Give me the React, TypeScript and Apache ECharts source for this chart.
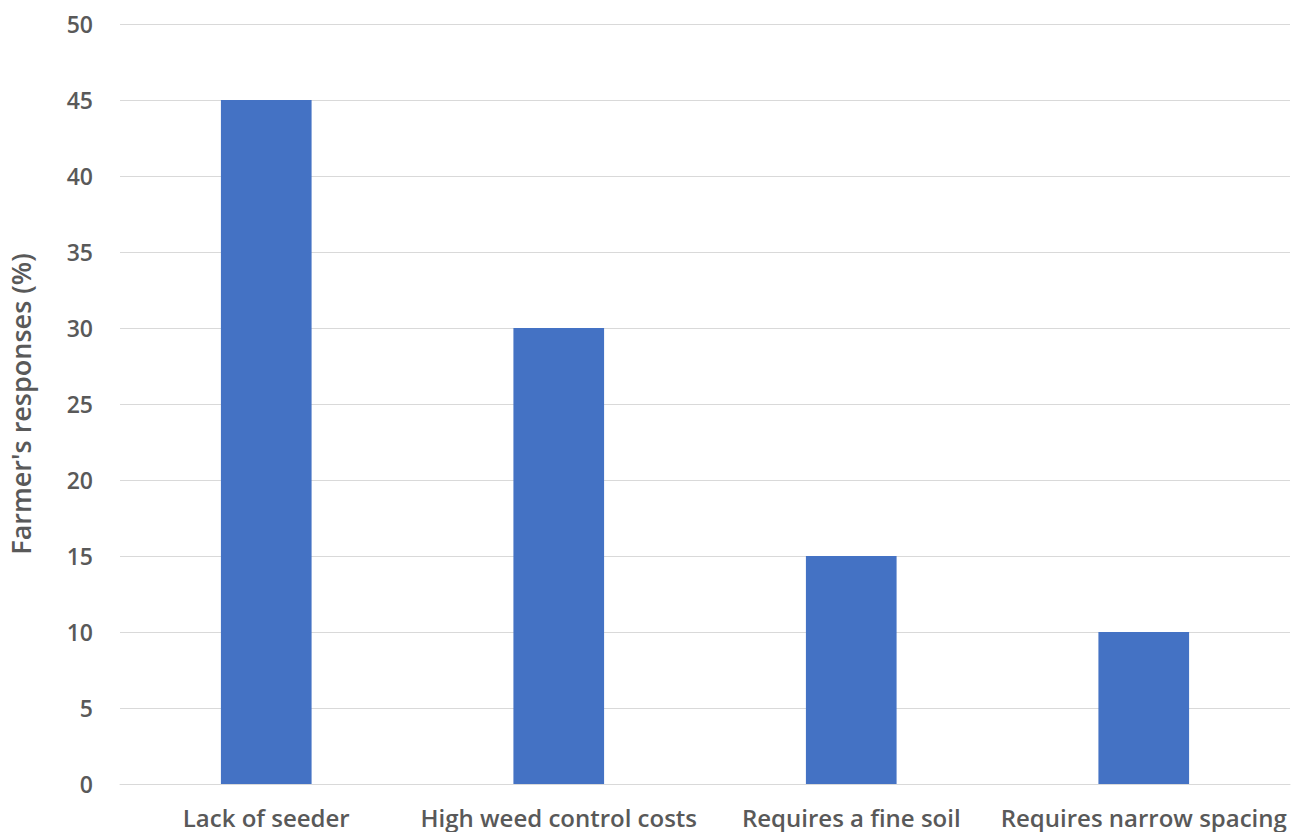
import React, { useEffect, useRef } from "react";
import * as echarts from "echarts";

const categories = [
  "Lack of seeder",
  "High weed control costs",
  "Requires a fine soil",
  "Requires narrow spacing",
];
const responses = [45, 30, 15, 10];
const yAxisTitle = "Farmer's responses (%)";

export default function App() {
  const ref = useRef<HTMLDivElement>(null);
  useEffect(() => {
    if (!ref.current) return;
    const chart = echarts.init(ref.current, undefined, { renderer: "svg" });
    const font = "'Open Sans', 'Noto Sans', sans-serif";
    chart.setOption({
      animation: false,
      grid: {
        left: 120,
        right: 11,
        top: 24,
        bottom: 48,
        containLabel: false,
        outerBoundsMode: "none",
      },
      xAxis: {
        type: "category",
        data: categories,
        axisLine: { show: true, lineStyle: { color: "#d9d9d9", width: 1 } },
        axisTick: { show: false },
        axisLabel: {
          color: "#595959",
          fontSize: 24,
          fontWeight: 600,
          fontFamily: font,
          margin: 21,
          interval: 0,
        },
      },
      yAxis: {
        type: "value",
        min: 0,
        max: 50,
        interval: 5,
        name: yAxisTitle,
        nameLocation: "middle",
        nameGap: 86,
        nameTextStyle: {
          color: "#595959",
          fontSize: 27,
          fontWeight: 600,
          fontFamily: font,
        },
        axisLine: { show: false },
        axisTick: { show: false },
        axisLabel: {
          color: "#595959",
          fontSize: 23,
          fontWeight: 600,
          fontFamily: font,
          margin: 27,
        },
        splitLine: { lineStyle: { color: "#d9d9d9", width: 1 } },
      },
      series: [
        {
          type: "bar",
          data: responses,
          barWidth: "31%",
          itemStyle: { color: "#4472C4" },
        },
      ],
    });
    return () => chart.dispose();
  }, []);
  return (
    <div
      ref={ref}
      style={{ position: "fixed", left: 0, top: 0, width: 1301, height: 832, background: "#fff" }}
    />
  );
}
